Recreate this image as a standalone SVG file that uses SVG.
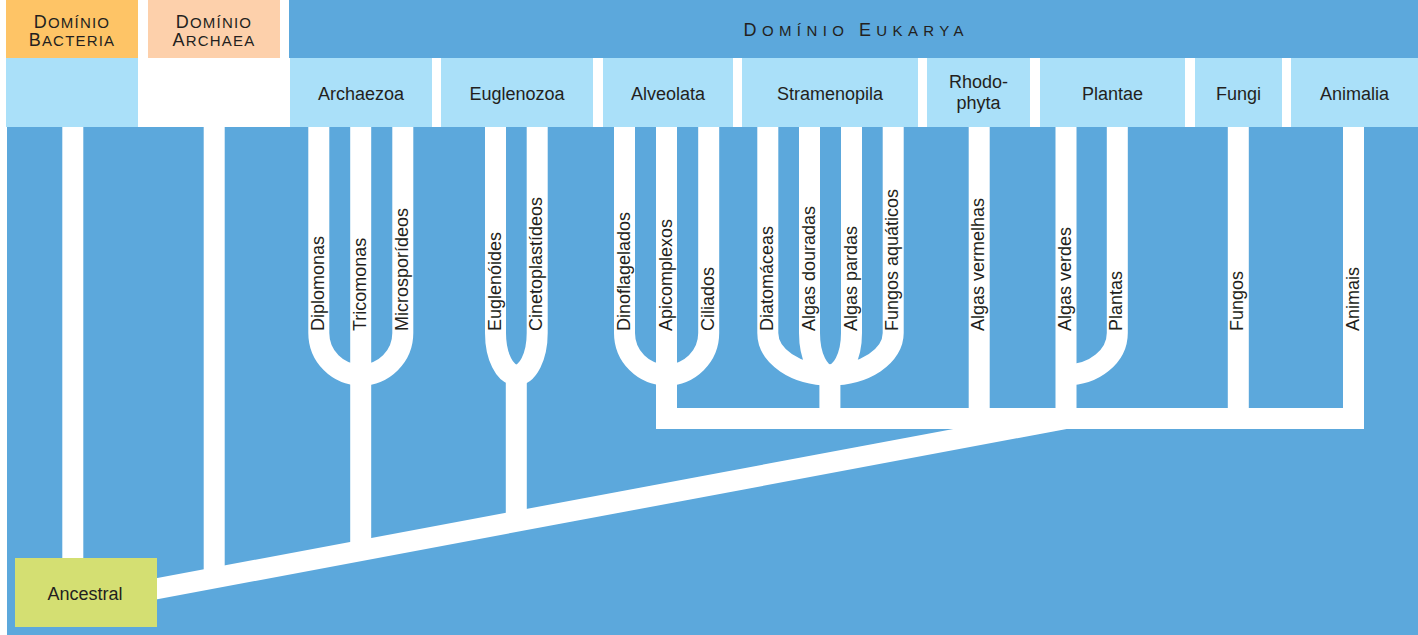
<svg xmlns="http://www.w3.org/2000/svg" width="1418" height="635" viewBox="0 0 1418 635">
<style>
.bg{fill:#5ca8dc}
.box{fill:#aae0f9}
.t{font-family:"Liberation Sans",Arial,Helvetica,sans-serif;font-size:18px;fill:#231f20}
.m{text-anchor:middle}
.dom{letter-spacing:1.2px}
.br{fill:none;stroke:#fff;stroke-width:21}
.wh{fill:#fff}
</style>
<rect x="0" y="0" width="1418" height="635" fill="#fff"/>
<rect class="bg" x="7" y="127" width="1411" height="508"/>
<rect class="bg" x="289" y="0" width="1129" height="58"/>

<g id="domain-bacteria">
<rect x="6" y="0" width="132" height="58" fill="#fec466"/>
<rect class="box" x="6" y="58" width="132" height="69"/>
<text class="t m dom" x="72" y="27.5">D<tspan font-size="15">OMÍNIO</tspan></text>
<text class="t m dom" x="72" y="46">B<tspan font-size="15">ACTERIA</tspan></text>
</g>
<g id="domain-archaea">
<rect x="148" y="0" width="132" height="58" fill="#fdd0ab"/>
<text class="t m dom" x="214" y="27.5">D<tspan font-size="15">OMÍNIO</tspan></text>
<text class="t m dom" x="214" y="46">A<tspan font-size="15">RCHAEA</tspan></text>
</g>
<g id="domain-eukarya">
<text class="t" x="743.5" y="36" letter-spacing="5.4">D<tspan font-size="15">OMÍNIO </tspan>E<tspan font-size="15">UKARYA</tspan></text>
</g>

<g id="kingdom-archaezoa"><rect class="box" x="290" y="58" width="142" height="69"/><text class="t m" x="361" y="100">Archaezoa</text></g>
<g id="kingdom-euglenozoa"><rect class="box" x="441" y="58" width="152" height="69"/><text class="t m" x="517" y="100">Euglenozoa</text></g>
<g id="kingdom-alveolata"><rect class="box" x="603" y="58" width="130" height="69"/><text class="t m" x="668" y="100">Alveolata</text></g>
<g id="kingdom-stramenopila"><rect class="box" x="742" y="58" width="176" height="69"/><text class="t m" x="830" y="100">Stramenopila</text></g>
<g id="kingdom-rhodophyta"><rect class="box" x="927" y="58" width="103" height="69"/><text class="t m" x="978.5" y="87.5">Rhodo-</text><text class="t m" x="978.5" y="108.5">phyta</text></g>
<g id="kingdom-plantae"><rect class="box" x="1040" y="58" width="145" height="69"/><text class="t m" x="1112.5" y="100">Plantae</text></g>
<g id="kingdom-fungi"><rect class="box" x="1195" y="58" width="87" height="69"/><text class="t m" x="1238.5" y="100">Fungi</text></g>
<g id="kingdom-animalia"><rect class="box" x="1291" y="58" width="127" height="69"/><text class="t m" x="1354.5" y="100">Animalia</text></g>

<g id="connectors">
<polygon class="wh" points="140,581.3 953.3,429 1066.7,429 140,602.5"/>
<rect class="wh" x="656" y="408" width="708" height="21"/>
<path class="br" d="M72.8 127V560"/>
<path class="br" d="M214.2 127V572"/>
<path class="br" d="M318.8 127V333A42 42 0 0 0 360.7 375A42 42 0 0 0 402.8 333V127"/>
<path class="br" d="M360.7 127V548"/>
<path class="br" d="M495.5 127V333A20.8 42 0 0 0 516.3 375A20.9 42 0 0 0 537.2 333V127"/>
<path class="br" d="M516.3 370V518"/>
<path class="br" d="M624.5 127V333A42 42 0 0 0 666.5 375A42.2 42 0 0 0 708.7 333V127"/>
<path class="br" d="M666.5 127V429"/>
<path class="br" d="M767.8 127V333A62.1 42 0 0 0 829.9 375A63.3 42 0 0 0 893.2 333V127"/>
<path class="br" d="M809.5 127V333A20.4 42 0 0 0 829.9 375A21.6 42 0 0 0 851.5 333V127"/>
<path class="br" d="M829.9 370V410"/>
<path class="br" d="M979.2 127V410"/>
<path class="br" d="M1066 127V410"/>
<path class="br" d="M1117.3 127V333A51.3 42 0 0 1 1066 375"/>
<path class="br" d="M1238.3 127V410"/>
<path class="br" d="M1353.5 127V429"/>
</g>

<g id="leaf-diplomonas"><text class="t" transform="translate(323.8 331) rotate(-90)">Diplomonas</text></g>
<g id="leaf-tricomonas"><text class="t" transform="translate(365.7 331) rotate(-90)">Tricomonas</text></g>
<g id="leaf-microsporideos"><text class="t" transform="translate(407.8 331) rotate(-90)">Microsporídeos</text></g>
<g id="leaf-euglenoides"><text class="t" transform="translate(500.5 331) rotate(-90)">Euglenóides</text></g>
<g id="leaf-cinetoplastideos"><text class="t" transform="translate(542.2 331) rotate(-90)">Cinetoplastídeos</text></g>
<g id="leaf-dinoflagelados"><text class="t" transform="translate(629.5 331) rotate(-90)">Dinoflagelados</text></g>
<g id="leaf-apicomplexos"><text class="t" transform="translate(671.5 331) rotate(-90)">Apicomplexos</text></g>
<g id="leaf-ciliados"><text class="t" transform="translate(713.7 331) rotate(-90)">Ciliados</text></g>
<g id="leaf-diatomaceas"><text class="t" transform="translate(772.8 331) rotate(-90)">Diatomáceas</text></g>
<g id="leaf-algas-douradas"><text class="t" transform="translate(814.5 331) rotate(-90)">Algas douradas</text></g>
<g id="leaf-algas-pardas"><text class="t" transform="translate(856.5 331) rotate(-90)">Algas pardas</text></g>
<g id="leaf-fungos-aquaticos"><text class="t" transform="translate(898.2 331) rotate(-90)">Fungos aquáticos</text></g>
<g id="leaf-algas-vermelhas"><text class="t" transform="translate(984.2 331) rotate(-90)">Algas vermelhas</text></g>
<g id="leaf-algas-verdes"><text class="t" transform="translate(1071 331) rotate(-90)">Algas verdes</text></g>
<g id="leaf-plantas"><text class="t" transform="translate(1122.3 331) rotate(-90)">Plantas</text></g>
<g id="leaf-fungos"><text class="t" transform="translate(1243.3 331) rotate(-90)">Fungos</text></g>
<g id="leaf-animais"><text class="t" transform="translate(1358.5 331) rotate(-90)">Animais</text></g>

<g id="ancestral">
<rect x="15" y="558" width="142" height="69" fill="#d4df72"/>
<text class="t m" x="85" y="600">Ancestral</text>
</g>
</svg>
